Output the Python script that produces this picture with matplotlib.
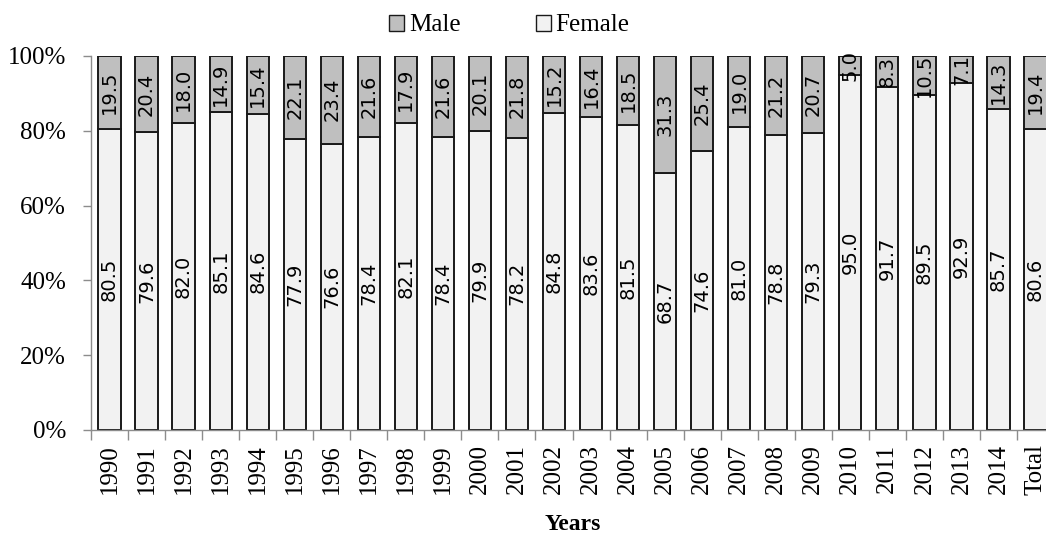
import matplotlib.pyplot as plt
from matplotlib.patches import Patch

# ── Data ─────────────────────────────────────────────
years = ["1990", "1991", "1992", "1993", "1994", "1995", "1996", "1997", "1998",
         "1999", "2000", "2001", "2002", "2003", "2004", "2005", "2006", "2007",
         "2008", "2009", "2010", "2011", "2012", "2013", "2014", "Total"]
female = [80.5, 79.6, 82.0, 85.1, 84.6, 77.9, 76.6, 78.4, 82.1, 78.4, 79.9, 78.2, 84.8,
          83.6, 81.5, 68.7, 74.6, 81.0, 78.8, 79.3, 95.0, 91.7, 89.5, 92.9, 85.7, 80.6]
male = [19.5, 20.4, 18.0, 14.9, 15.4, 22.1, 23.4, 21.6, 17.9, 21.6, 20.1, 21.8, 15.2,
        16.4, 18.5, 31.3, 25.4, 19.0, 21.2, 20.7, 5.0, 8.3, 10.5, 7.1, 14.3, 19.4]
y_ticks = [0, 20, 40, 60, 80, 100]

MALE_COLOR = "#bfbfbf"
FEMALE_COLOR = "#f2f2f2"
SERIF = "Liberation Serif"

W, H = 1046, 538
fig = plt.figure(figsize=(W / 100, H / 100), dpi=100)
ax = fig.add_axes([91 / W, (H - 430) / H, 26 * 37.04 / W, 374 / H])

x = list(range(len(years)))
ax.bar(x, female, width=0.6, color=FEMALE_COLOR, edgecolor="#1a1a1a", linewidth=1.4)
ax.bar(x, male, width=0.6, bottom=female, color=MALE_COLOR, edgecolor="#1a1a1a", linewidth=1.4)

# value labels, rotated, centred in each segment
for i in x:
    ax.text(i, female[i] / 2, f"{female[i]:.1f}", rotation=90, ha="center", va="center",
            fontsize=14, family="DejaVu Sans")
    ax.text(i, female[i] + male[i] / 2, f"{male[i]:.1f}", rotation=90, ha="center",
            va="center", fontsize=14, family="DejaVu Sans")

ax.set_xlim(-0.5, len(years) - 0.5)
ax.set_ylim(0, 100)
ax.set_yticks(y_ticks)
ax.set_yticklabels([f"{v}%" for v in y_ticks], family=SERIF, fontsize=18)
ax.set_xticks(x)
ax.set_xticklabels(years, rotation=90, family=SERIF, fontsize=18)
ax.tick_params(axis="x", length=0, pad=10)
ax.set_xticks([i - 0.5 for i in range(len(years) + 1)], minor=True)
ax.tick_params(axis="x", which="minor", length=7, color="#8c8c8c", width=1)
ax.tick_params(axis="y", length=6, color="#8c8c8c", width=1, pad=12)

for side in ["top", "right"]:
    ax.spines[side].set_visible(False)
for side in ["left", "bottom"]:
    ax.spines[side].set_color("#8c8c8c")
    ax.spines[side].set_linewidth(1)

ax.set_xlabel("Years", family=SERIF, fontsize=17, fontweight="bold", labelpad=14)

handles = [Patch(facecolor=MALE_COLOR, edgecolor="#1a1a1a", label="Male"),
           Patch(facecolor=FEMALE_COLOR, edgecolor="#1a1a1a", label="Female")]
fig.legend(handles=handles, loc="upper center", bbox_to_anchor=(0.487, 1.015), ncol=2,
           frameon=False, handlelength=0.6, handleheight=0.6, handletextpad=0.2,
           columnspacing=3.0, prop={"family": SERIF, "size": 18})

fig.savefig("out.png", dpi=100)
